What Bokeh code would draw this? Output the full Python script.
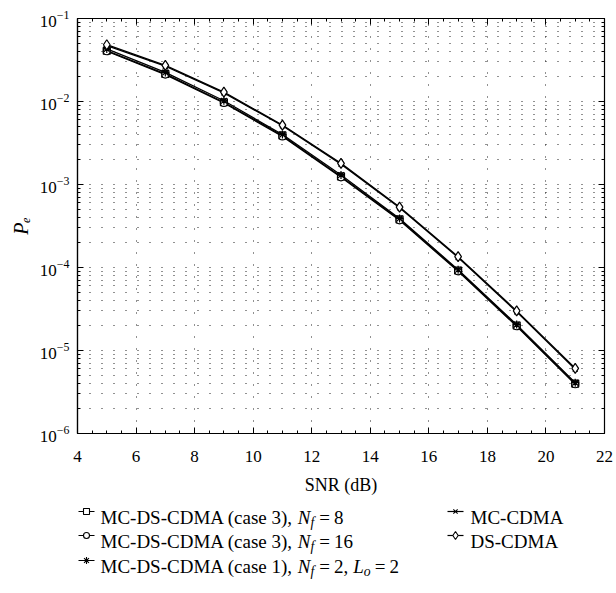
import numpy as np
from bokeh.plotting import figure
from bokeh.models import (LogAxis, LinearAxis, FixedTicker, SingleIntervalTicker,
                          ColumnDataSource, Range1d, CustomJSTickFormatter)
from bokeh.layouts import column
from bokeh.core.properties import value
from bokeh.embed import file_html
from bokeh.resources import INLINE

# ---------------- data ----------------
snr = [5, 7, 9, 11, 13, 15, 17, 19, 21]
pe_case3_nf8 = [0.0410, 0.0215, 0.0098, 0.0039, 0.00125, 3.8e-4, 9.2e-5, 2.00e-5, 4.00e-6]
pe_case3_nf16 = [0.0403, 0.0211, 0.0096, 0.0038, 0.00122, 3.7e-4, 9.0e-5, 1.96e-5, 3.92e-6]
pe_case1 = [0.0430, 0.0224, 0.0102, 0.0040, 0.00130, 3.9e-4, 9.4e-5, 2.05e-5, 4.10e-6]
pe_mc_cdma = [0.0472, 0.0266, 0.0127, 0.0051, 0.00176, 5.25e-4, 1.32e-4, 2.92e-5, 5.95e-6]
pe_ds_cdma = [0.0483, 0.0272, 0.0130, 0.0052, 0.00180, 5.35e-4, 1.35e-4, 3.00e-5, 6.10e-6]

x_ticks = [4, 6, 8, 10, 12, 14, 16, 18, 20, 22]
y_ticks = [1e-6, 1e-5, 1e-4, 1e-3, 1e-2, 1e-1]
y_minor = [k * t for t in y_ticks[:-1] for k in range(2, 10)]

FONT = "Liberation Serif"
BL, BR = 77, 12

p = figure(width=616, height=497, x_range=Range1d(4, 22), y_range=Range1d(1e-6, 1e-1),
           y_axis_type="log", output_backend="svg", toolbar_location=None,
           min_border_left=BL, min_border_right=BR, min_border_top=18, min_border_bottom=10)
p.background_fill_color = "white"
p.outline_line_color = "black"
p.outline_line_width = 1.2

xt = SingleIntervalTicker(interval=2, num_minor_ticks=4)
yt = FixedTicker(ticks=y_ticks, minor_ticks=y_minor)

p.xaxis.ticker = xt
p.yaxis.ticker = yt
p.xgrid.ticker = SingleIntervalTicker(interval=2, num_minor_ticks=0)
p.ygrid.ticker = yt

for g in (p.xgrid, p.ygrid):
    g.grid_line_color = "#222222"
    g.grid_line_dash = "1 11"
    g.grid_line_width = 1
p.ygrid.minor_grid_line_color = "#222222"
p.ygrid.minor_grid_line_dash = "1 11"
p.ygrid.minor_grid_line_width = 1

for ax in (p.xaxis[0], p.yaxis[0]):
    ax.axis_line_color = "black"
    ax.axis_line_width = 1.2
    ax.major_tick_in = 6
    ax.major_tick_out = 0
    ax.minor_tick_in = 3
    ax.minor_tick_out = 0
    ax.major_tick_line_color = "black"
    ax.minor_tick_line_color = "black"
    ax.major_label_text_font = FONT
    ax.major_label_text_font_size = "17px"
    ax.major_label_text_color = "black"
    ax.axis_label_text_font = FONT
    ax.axis_label_text_font_size = "18px"
    ax.axis_label_text_font_style = "normal"
    ax.axis_label_text_color = "black"

p.xaxis.axis_label = "SNR (dB)"
p.xaxis.major_label_standoff = 17
p.xaxis.axis_label_standoff = 10
p.yaxis.axis_label = "P\u2091"
p.yaxis.axis_label_text_font_style = "italic"
p.yaxis.axis_label_text_font_size = "20px"
p.yaxis.major_label_standoff = 8
p.yaxis.axis_label_standoff = 5

blank = CustomJSTickFormatter(code="return ''")
top = LinearAxis(ticker=xt, formatter=blank, major_label_standoff=0,
                 major_tick_in=6, major_tick_out=0, minor_tick_in=3, minor_tick_out=0,
                 axis_line_color="black", major_tick_line_color="black",
                 minor_tick_line_color="black")
right = LogAxis(ticker=yt, formatter=blank, major_label_standoff=0,
                major_tick_in=6, major_tick_out=0, minor_tick_in=3, minor_tick_out=0,
                axis_line_color="black", major_tick_line_color="black",
                minor_tick_line_color="black")
p.add_layout(top, "above")
p.add_layout(right, "right")

styles = [
    (pe_case3_nf8, "square", 7, "white"),
    (pe_case3_nf16, "circle", 7, "white"),
    (pe_case1, "asterisk", 8, "black"),
    (pe_mc_cdma, "x", 7, "black"),
    (pe_ds_cdma, "diamond", 10, "white"),
]
for ys, mk, sz, fc in styles:
    p.line(snr, ys, line_color="black", line_width=1.3)
    p.scatter(snr, ys, marker=mk, size=sz, line_color="black", fill_color=fc, line_width=1.2)

# ---------------- legend (separate panel; its frame is aligned with the plot's) ----------------
W, H = 616, 96
q = figure(width=W, height=H, x_range=Range1d(BL, W - BR), y_range=Range1d(0, H),
           output_backend="svg", toolbar_location=None,
           min_border_left=BL, min_border_right=BR, min_border_top=0, min_border_bottom=0)
q.axis.visible = False
q.grid.visible = False
q.outline_line_color = None

REG = {'M': 889, 'C': 667, '-': 333, 'D': 722, 'S': 556, 'A': 722, ' ': 250, '(': 333,
       'c': 444, 'a': 444, 's': 389, 'e': 444, '3': 500, '1': 500, ')': 333, ',': 250,
       '=': 564, '8': 500, '6': 500, '2': 500}
ITA = {'N': 667, 'f': 278, 'L': 556, 'o': 500}

def wid(t, italic, size):
    tab = ITA if italic else REG
    return sum(tab.get(ch, 500) for ch in t) * size / 1000.0

FS = 19
legend_entries = [
    (86, 100, 76, "square", 6, "white",
     [("MC-DS-CDMA (case 3), ", False, 1, 0, 0), ("N", True, 1, 0, 0), ("f", True, 0.72, -5, 0),
      ("=", False, 1, 0, 5), ("8", False, 1, 0, 4)]),
    (86, 100, 52, "circle", 6, "white",
     [("MC-DS-CDMA (case 3), ", False, 1, 0, 0), ("N", True, 1, 0, 0), ("f", True, 0.72, -5, 0),
      ("=", False, 1, 0, 5), ("16", False, 1, 0, 4)]),
    (86, 100, 27, "asterisk", 7, "black",
     [("MC-DS-CDMA (case 1), ", False, 1, 0, 0), ("N", True, 1, 0, 0), ("f", True, 0.72, -5, 0),
      ("=", False, 1, 0, 5), ("2,", False, 1, 0, 4), ("L", True, 1, 0, 5), ("o", True, 0.72, -5, 0),
      ("=", False, 1, 0, 4), ("2", False, 1, 0, 4)]),
    (455, 470, 76, "x", 6, "black", [("MC-CDMA", False, 1, 0, 0)]),
    (455, 470, 52, "diamond", 8, "white", [("DS-CDMA", False, 1, 0, 0)]),
]

tx, ty, tt, tst, tsz = [], [], [], [], []
lx0, lx1, ly, mx, my, mks, msz, mfc = [], [], [], [], [], [], [], []
for icx, txx, by, mk, sz, fc, segs in legend_entries:
    lx0.append(icx - 8); lx1.append(icx + 8); ly.append(by + 6)
    mx.append(icx); my.append(by + 6); mks.append(mk); msz.append(sz); mfc.append(fc)
    cx = txx
    for t, it, scale, dy, gap in segs:
        cx += gap
        size = FS * scale
        tx.append(cx); ty.append(by + dy); tt.append(t)
        tst.append("italic" if it else "normal"); tsz.append(f"{size:.1f}px")
        cx += wid(t, it, size)

q.segment(x0=lx0, y0=ly, x1=lx1, y1=ly, line_color="black", line_width=1.2)
q.scatter(x=mx, y=my, marker=mks, size=msz, fill_color=mfc, line_color="black", line_width=1.1)
src = ColumnDataSource(dict(x=tx, y=ty, text=tt, fstyle=tst, fsize=tsz))
q.text(x="x", y="y", text="text", source=src, text_font=value(FONT),
       text_font_style="fstyle", text_font_size="fsize", text_baseline="alphabetic",
       text_align="left", text_color="black")

layout = column(p, q, spacing=0)
open("out.html", "w").write(file_html(layout, INLINE))
